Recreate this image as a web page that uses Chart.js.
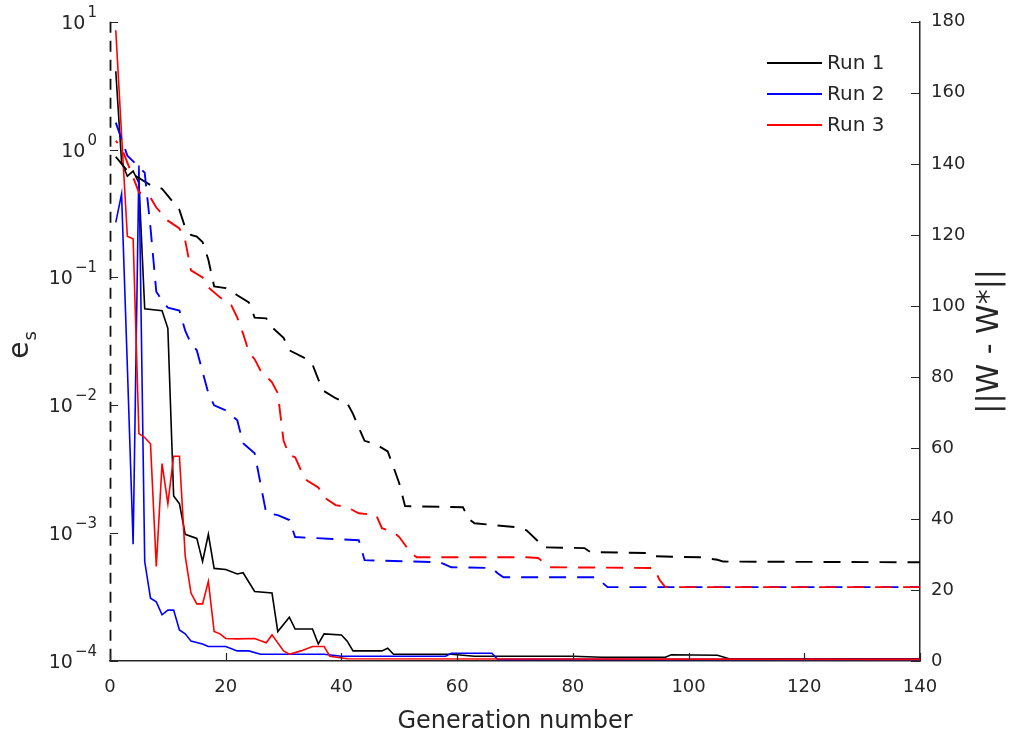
<!DOCTYPE html>
<html>
<head>
<meta charset="utf-8">
<script src="https://cdn.jsdelivr.net/npm/chart.js@4.4.0/dist/chart.umd.min.js"></script>
<style>
  html, body { margin: 0; padding: 0; background: #fff; }
</style>
</head>
<body>
<canvas id="chart" width="1020" height="740"></canvas>
<script>
  /* ===== data ===== */

  // e_s (left, log axis) - solid lines
  const run1EsGen = [1, 2, 3, 4, 5, 6, 9, 10, 11, 12, 13, 15, 16, 17, 18, 20, 22, 23, 25, 28, 29, 31, 32, 35, 36, 37, 40, 41, 42, 47, 48, 49, 59, 63, 80, 85, 96, 97, 105, 107, 140];
  const run1Es = [4.1, 0.8, 0.62, 0.68, 0.55, 0.057, 0.055, 0.04, 1.95e-3, 1.7e-3, 9.8e-4, 9.1e-4, 6e-4, 9.8e-4, 5.3e-4, 5.2e-4, 4.8e-4, 4.9e-4, 3.5e-4, 3.4e-4, 1.7e-4, 2.2e-4, 1.78e-4, 1.78e-4, 1.36e-4, 1.63e-4, 1.6e-4, 1.43e-4, 1.2e-4, 1.2e-4, 1.26e-4, 1.13e-4, 1.13e-4, 1.09e-4, 1.09e-4, 1.07e-4, 1.07e-4, 1.12e-4, 1.11e-4, 1.04e-4, 1.04e-4];

  const run2EsGen = [1, 2, 3, 4, 5, 6, 7, 8, 9, 10, 11, 12, 13, 14, 16, 17, 20, 22, 24, 26, 37, 40, 58, 59, 66, 67, 140];
  const run2Es = [0.27, 0.45, 0.02, 8.2e-4, 0.75, 6e-4, 3.1e-4, 2.9e-4, 2.3e-4, 2.5e-4, 2.5e-4, 1.75e-4, 1.63e-4, 1.43e-4, 1.36e-4, 1.3e-4, 1.3e-4, 1.2e-4, 1.2e-4, 1.13e-4, 1.13e-4, 1.09e-4, 1.09e-4, 1.15e-4, 1.15e-4, 1.03e-4, 1.03e-4];

  const run3EsGen = [1, 2, 3, 4, 5, 6, 7, 8, 9, 10, 11, 12, 13, 14, 15, 16, 17, 18, 19, 20, 22, 25, 27, 28, 30, 31, 33, 35, 37, 38, 41, 140];
  const run3Es = [8.6, 1.3, 0.21, 0.2, 6e-3, 5.6e-3, 5e-3, 5.5e-4, 3.5e-3, 1.7e-3, 4e-3, 4e-3, 6.6e-4, 3.4e-4, 2.8e-4, 2.8e-4, 4.2e-4, 1.7e-4, 1.63e-4, 1.5e-4, 1.49e-4, 1.5e-4, 1.39e-4, 1.6e-4, 1.2e-4, 1.13e-4, 1.2e-4, 1.3e-4, 1.3e-4, 1.09e-4, 1.04e-4, 1.03e-4];

  // ||W - W*|| (right, linear axis) - dashed lines
  const run1WGen = [1, 3, 5, 7, 9, 11, 12, 13, 14, 15, 16, 17, 18, 20, 22, 24, 25, 27, 28, 30, 31, 34, 35, 36, 37, 39, 41, 42, 43, 44, 46, 48, 49, 50, 51, 61, 62, 63, 70, 72, 74, 75, 82, 83, 93, 94, 102, 105, 106, 140];
  const run1W = [142, 138, 136, 134, 133, 129, 127, 122, 120, 119.5, 118, 113, 105.5, 105, 103, 101, 96.7, 96.5, 94, 91, 87.5, 85, 83.5, 79.3, 76, 74, 72.6, 69.6, 65.7, 62, 61, 59, 54.6, 50, 43.6, 43.3, 40, 38.8, 37.7, 36.8, 33.7, 32, 31.8, 30.7, 30.4, 29.5, 29.2, 28.5, 28, 27.8];

  const run2WGen = [1, 3, 6, 7, 8, 9, 10, 12, 13, 14, 15, 17, 18, 20, 22, 23, 25, 27, 29, 31, 32, 43, 44, 57, 59, 66, 67, 68, 84, 86, 140];
  const run2W = [151.6, 142.3, 137.5, 122, 104, 101.5, 99.5, 98.7, 93, 89.4, 87.5, 75.4, 72, 70.6, 67.8, 61.3, 58.5, 41.6, 41.1, 39.7, 34.9, 34, 28.4, 27.8, 26.4, 26.2, 24.7, 23.6, 23.6, 20.8, 20.8];

  const run3WGen = [1, 2, 5, 7, 8, 10, 12, 13, 14, 16, 17, 19, 21, 22, 23, 24, 25, 26, 28, 29, 30, 31, 32, 33, 34, 36, 37, 39, 41, 43, 46, 47, 49, 50, 52, 53, 72, 74, 76, 94, 95, 96, 140];
  const run3W = [146.5, 144.5, 132, 130.5, 127.7, 124, 121.8, 118.4, 110, 108, 105.2, 102.4, 100.1, 96.7, 92.2, 87, 85, 81.8, 78.5, 75.4, 62, 57.9, 57.4, 53.7, 50.9, 48.9, 46.1, 43.9, 43.3, 41.6, 41.1, 37.4, 36.3, 34.9, 30.4, 29.2, 29.2, 29, 26.4, 26.2, 22.8, 20.8, 20.8];

  // ticks and labels
  const runLabels = ['Run 1', 'Run 2', 'Run 3'];
  const runColors = ['#000000', '#0000ff', '#ff0000'];
  const genTicks = [0, 20, 40, 60, 80, 100, 120, 140];
  const wTicks = [0, 20, 40, 60, 80, 100, 120, 140, 160, 180];
  const esExponents = [-4, -3, -2, -1, 0, 1];

  const toPoints = (gens, vals) => gens.map((g, i) => ({ x: g, y: vals[i] }));

  const FONT = 'DejaVu Sans';
  const INK = '#262626';

  /* ===== axis decorations: dashed left edge, inside ticks, log labels, titles, legend ===== */
  const decorations = {
    id: 'decorations',
    afterDraw(chart) {
      const { ctx, chartArea: a, scales } = chart;
      const { x, yL, yR } = scales;
      ctx.save();

      // dashed left edge
      ctx.strokeStyle = '#111';
      ctx.lineWidth = 1.8;
      ctx.setLineDash([11, 8]);
      ctx.beginPath();
      ctx.moveTo(a.left + 0.5, a.top);
      ctx.lineTo(a.left + 0.5, a.bottom);
      ctx.stroke();
      ctx.setLineDash([]);

      // tick marks (inside)
      ctx.strokeStyle = INK;
      ctx.lineWidth = 1.2;
      ctx.beginPath();
      genTicks.forEach(v => {
        const px = Math.round(x.getPixelForValue(v)) + 0.5;
        ctx.moveTo(px, a.bottom);
        ctx.lineTo(px, a.bottom - 8);
      });
      wTicks.forEach(v => {
        const py = Math.round(yR.getPixelForValue(v)) + 0.5;
        ctx.moveTo(a.right, py);
        ctx.lineTo(a.right - 9, py);
      });
      esExponents.forEach(e => {
        const py = Math.round(yL.getPixelForValue(Math.pow(10, e))) + 0.5;
        ctx.moveTo(a.left, py);
        ctx.lineTo(a.left + 8, py);
      });
      ctx.stroke();

      // left labels 10^n
      ctx.fillStyle = INK;
      ctx.textBaseline = 'alphabetic';
      esExponents.forEach(e => {
        const py = yL.getPixelForValue(Math.pow(10, e));
        const expText = String(e).replace('-', '\u2212');
        ctx.font = `15px "${FONT}"`;
        ctx.textAlign = 'right';
        ctx.fillText(expText, 97, py - 5);
        const expW = ctx.measureText(expText).width;
        ctx.font = `19px "${FONT}"`;
        ctx.fillText('10', 97 - expW - 2, py + 7);
      });

      // x title
      ctx.font = `24px "${FONT}"`;
      ctx.textAlign = 'center';
      ctx.textBaseline = 'middle';
      ctx.fillText('Generation number', (a.left + a.right) / 2, 722);

      // left title e_s
      ctx.save();
      ctx.translate(20, (a.top + a.bottom) / 2 + 4);
      ctx.rotate(-Math.PI / 2);
      ctx.textAlign = 'left';
      ctx.textBaseline = 'alphabetic';
      ctx.font = `28px "${FONT}"`;
      const eW = ctx.measureText('e').width;
      ctx.font = `18px "${FONT}"`;
      const sW = ctx.measureText('s').width;
      const u0 = -(eW + sW) / 2;
      ctx.font = `28px "${FONT}"`;
      ctx.fillText('e', u0, 8);
      ctx.font = `18px "${FONT}"`;
      ctx.fillText('s', u0 + eW + 1, 16);
      ctx.restore();

      // right title
      ctx.save();
      ctx.translate(990, (a.top + a.bottom) / 2);
      ctx.rotate(-Math.PI / 2);
      ctx.textAlign = 'center';
      ctx.textBaseline = 'middle';
      ctx.font = `30px "${FONT}"`;
      ctx.fillText('||W - W*||', 0, 0);
      ctx.restore();

      // legend
      ctx.font = `20px "${FONT}"`;
      ctx.textAlign = 'left';
      ctx.textBaseline = 'middle';
      runLabels.forEach((lab, i) => {
        const ly = 63 + i * 31;
        ctx.strokeStyle = runColors[i];
        ctx.lineWidth = 2;
        ctx.beginPath();
        ctx.moveTo(767, ly);
        ctx.lineTo(822, ly);
        ctx.stroke();
        ctx.fillStyle = INK;
        ctx.fillText(lab, 827, ly + 1);
      });

      ctx.restore();
    }
  };

  const solid = (i, gens, vals, order) => ({
    label: runLabels[i],
    data: toPoints(gens, vals),
    yAxisID: 'yL',
    borderColor: runColors[i],
    borderWidth: 1.6,
    pointRadius: 0,
    tension: 0,
    order
  });

  const dashed = (i, gens, vals, order, offset) => ({
    label: runLabels[i] + ' W',
    data: toPoints(gens, vals),
    yAxisID: 'yR',
    borderColor: runColors[i],
    borderWidth: 1.9,
    borderDash: [17, 11],
    borderDashOffset: offset,
    pointRadius: 0,
    tension: 0,
    order
  });

  const canvas = document.getElementById('chart').getContext('2d');

  const chart = new Chart(canvas, {
    type: 'line',
    data: {
      datasets: [
        solid(0, run1EsGen, run1Es, 6),
        solid(1, run2EsGen, run2Es, 5),
        solid(2, run3EsGen, run3Es, 4),
        dashed(0, run1WGen, run1W, 3, 0),
        dashed(1, run2WGen, run2W, 2, 0),
        dashed(2, run3WGen, run3W, 1, 14)
      ]
    },
    options: {
      responsive: false,
      animation: false,
      layout: { padding: { top: 20, left: 0, right: 0, bottom: 0 } },
      plugins: {
        legend: { display: false },
        tooltip: { enabled: false }
      },
      scales: {
        x: {
          type: 'linear',
          min: 0,
          max: 140,
          grid: { display: false, drawTicks: false },
          border: { display: true, color: INK, width: 1.5 },
          ticks: {
            stepSize: 20,
            padding: 16,
            maxRotation: 0,
            color: INK,
            font: { family: FONT, size: 18 }
          },
          afterFit: s => { s.height = 79; }
        },
        yL: {
          type: 'logarithmic',
          position: 'left',
          min: 1e-4,
          max: 10,
          grid: { display: false, drawTicks: false },
          border: { display: false },
          ticks: { display: false },
          afterFit: s => { s.width = 110; }
        },
        yR: {
          type: 'linear',
          position: 'right',
          min: 0,
          max: 180,
          grid: { display: false, drawTicks: false },
          border: { display: true, color: INK, width: 1.5 },
          ticks: {
            stepSize: 20,
            padding: 11,
            color: INK,
            font: { family: FONT, size: 18 }
          },
          afterFit: s => { s.width = 100; }
        }
      }
    },
    plugins: [decorations]
  });
</script>
</body>
</html>
